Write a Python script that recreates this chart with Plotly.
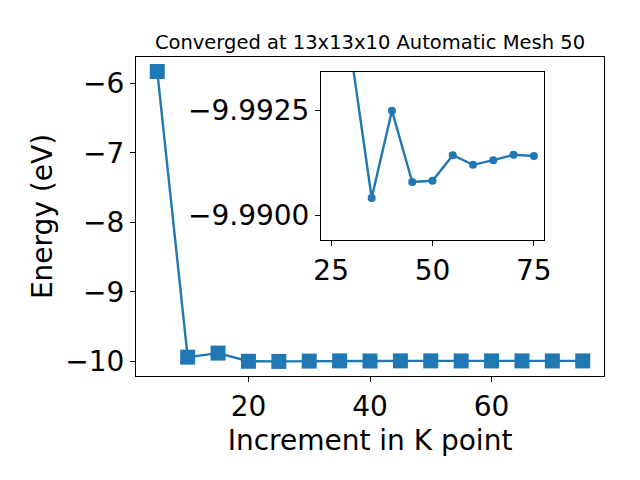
import plotly.graph_objects as go

kpoints = [5, 10, 15, 20, 25, 30, 35, 40, 45, 50, 55, 60, 65, 70, 75]
energy = [-5.833, -9.937, -9.879, -9.9965, -9.9985, -9.9938, -9.99042, -9.9925,
          -9.99080, -9.99083, -9.99144, -9.99121, -9.99132, -9.99145, -9.99142]

main_xticks = [20, 40, 60]
main_yticks = [-6, -7, -8, -9, -10]
inset_xticks = [25, 50, 75]
inset_yticks = [-9.9925, -9.9900]

title_text = "Converged at 13x13x10 Automatic Mesh 50"
xlabel = "Increment in K point"
ylabel = "Energy (eV)"

blue = "#1f77b4"
font = "DejaVu Sans"

OFF = 8  # page body margin in the browser
W, H = 640, 480
L, R, T, B = 136 - OFF, 604 - OFF, 57 - OFF, 376 - OFF  # main axes box in fig px


def fx(px):
    return (px - OFF - L) / (R - L)


def fy(py):
    return (B - (py - OFF)) / (B - T)


fig = go.Figure()
fig.add_trace(go.Scatter(
    x=kpoints, y=energy, mode="lines+markers",
    line=dict(color=blue, width=2.4),
    marker=dict(symbol="square", size=15, color=blue),
    xaxis="x", yaxis="y", showlegend=False,
))
fig.add_trace(go.Scatter(
    x=kpoints, y=energy, mode="lines+markers",
    line=dict(color=blue, width=2.4),
    marker=dict(symbol="circle", size=8, color=blue),
    xaxis="x2", yaxis="y2", showlegend=False,
))

axis_common = dict(
    showgrid=False, zeroline=False, showline=True, linecolor="black",
    linewidth=1, mirror=True, ticks="outside", ticklen=5, tickwidth=1,
    tickcolor="black", tickfont=dict(family=font, size=28, color="black"),
)

fig.update_layout(
    width=W, height=H,
    margin=dict(l=L, r=W - R, t=T, b=H - B, autoexpand=False),
    plot_bgcolor="white", paper_bgcolor="white",
    title=dict(text=title_text, x=((L + R) / 2) / W, xanchor="center",
               y=1 - (42 - OFF) / H, yanchor="middle",
               font=dict(family=font, size=19.5, color="black")),
    xaxis=dict(range=[1.5, 78.5], tickvals=main_xticks, domain=[0, 1],
               title=dict(text=xlabel, standoff=8,
                          font=dict(family=font, size=28, color="black")),
               **axis_common),
    yaxis=dict(range=[-10.208, -5.625], tickvals=main_yticks, domain=[0, 1],
               ticktext=[f"\u2212{abs(v)}" for v in main_yticks],
               title=dict(text=ylabel, standoff=4,
                          font=dict(family=font, size=28, color="black")),
               **axis_common),
    xaxis2=dict(range=[22.5, 77.5], tickvals=inset_xticks, anchor="y2",
                domain=[fx(321), fx(544)], **axis_common),
    yaxis2=dict(range=[-9.98942, -9.99342], tickvals=inset_yticks, anchor="x2",
                ticktext=[f"\u2212{abs(v):.4f}" for v in inset_yticks],
                domain=[fy(240), fy(72)], **axis_common),
)

fig.write_html("out.html")
